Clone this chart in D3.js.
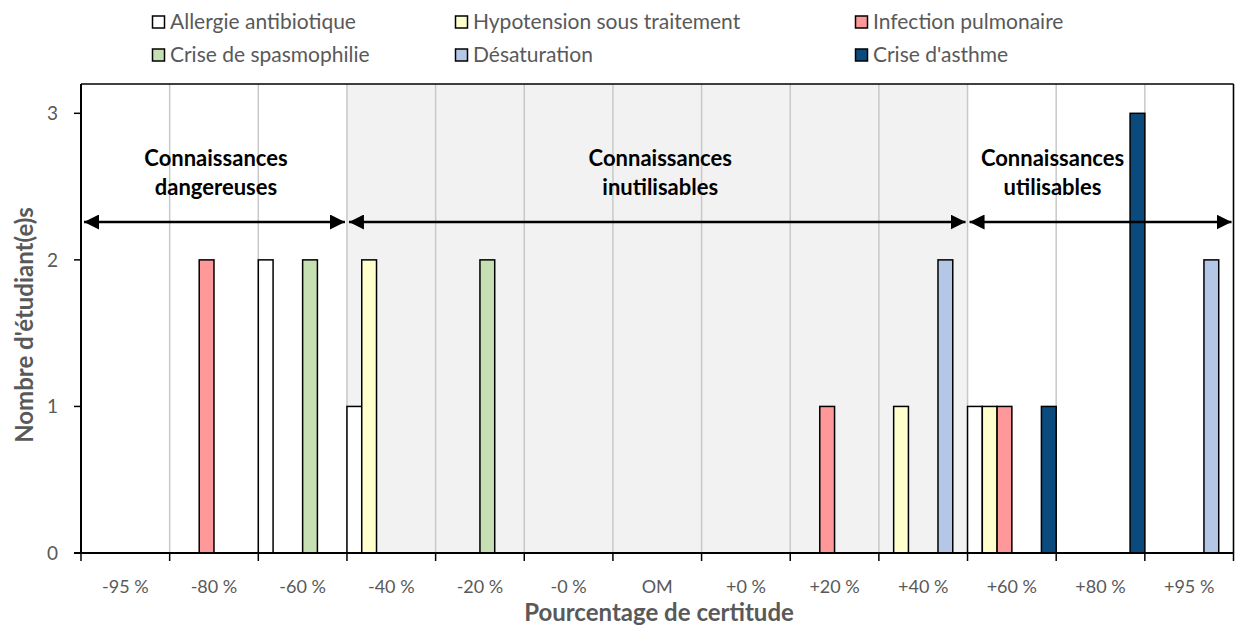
<!DOCTYPE html>
<html><head><meta charset="utf-8">
<script src="https://cdn.jsdelivr.net/npm/d3@7"></script>
<style>body{margin:0;background:#fff;} svg{display:block;}</style>
</head><body>
<svg id="chart" width="1235" height="628"></svg>
<script>
const categories = ["-95 %","-80 %","-60 %","-40 %","-20 %","-0 %","OM","+0 %","+20 %","+40 %","+60 %","+80 %","+95 %"];
const seriesNames = ["Allergie antibiotique","Hypotension sous traitement","Infection pulmonaire","Crise de spasmophilie","Désaturation","Crise d'asthme"];
const seriesColors = ["#ffffff","#ffffcc","#ff9999","#c6e0b4","#b4c7e7","#0a4a7c"];
const allergie     = [0,0,2,1,0,0,0,0,0,0,1,0,0];
const hypotension  = [0,0,0,2,0,0,0,0,0,1,1,0,0];
const infection    = [0,2,0,0,0,0,0,0,1,0,1,0,0];
const spasmophilie = [0,0,2,0,2,0,0,0,0,0,0,0,0];
const desaturation = [0,0,0,0,0,0,0,0,0,2,0,0,2];
const asthme       = [0,0,0,0,0,0,0,0,0,0,1,3,0];
const seriesValues = [allergie,hypotension,infection,spasmophilie,desaturation,asthme];
const yTicks = [0,1,2,3];
const zoneFrom  = ["-95 %","-40 %","+60 %"];
const zoneTo    = ["-60 %","+40 %","+95 %"];
const zoneLabels = [["Connaissances","dangereuses"],["Connaissances","inutilisables"],["Connaissances","utilisables"]];
const zoneShaded = [false,true,false];

const font = "Lato, 'Open Sans', sans-serif";
const svg = d3.select("#chart");
const L=81, R=1233.5, T=84, B=553;
const x = d3.scaleBand().domain(categories).range([L,R]).paddingInner(0).paddingOuter(0);
const bw = x.bandwidth();
const xs = d3.scaleBand().domain(seriesNames).range([0,bw]).padding(0);
const y = d3.scaleLinear().domain([0,3.2]).range([B,T]);

// shaded zone
zoneFrom.forEach((f,i)=>{
  if(!zoneShaded[i]) return;
  svg.append("rect").attr("x",x(f)).attr("y",T)
    .attr("width",x(zoneTo[i])+bw-x(f)).attr("height",B-T)
    .attr("fill","#f2f2f2");
});
// vertical gridlines at category boundaries
const bounds = categories.map(c=>x(c)).concat([R]);
svg.append("g").selectAll("line").data(bounds.slice(1)).join("line")
  .attr("x1",d=>d).attr("x2",d=>d).attr("y1",T).attr("y2",B)
  .attr("stroke","#c8c8c8").attr("stroke-width",1.5);

// bars
seriesNames.forEach((s,i)=>{
  svg.append("g").selectAll("rect").data(categories.map((c,j)=>({c,v:seriesValues[i][j]})).filter(d=>d.v>0))
    .join("rect")
    .attr("x",d=>x(d.c)+xs(s)).attr("width",xs.bandwidth())
    .attr("y",d=>y(d.v)).attr("height",d=>B-y(d.v))
    .attr("fill",seriesColors[i]).attr("stroke","#000").attr("stroke-width",1.5);
});

// plot frame
svg.append("line").attr("x1",L).attr("x2",R).attr("y1",T).attr("y2",T).attr("stroke","#000").attr("stroke-width",1.5);
svg.append("line").attr("x1",R).attr("x2",R).attr("y1",T).attr("y2",B).attr("stroke","#000").attr("stroke-width",1.5);

// axes
const xAxisG = svg.append("g").attr("transform",`translate(0,${B})`);
xAxisG.append("line").attr("x1",L-7).attr("x2",R).attr("y1",0).attr("y2",0).attr("stroke","#000").attr("stroke-width",2);
xAxisG.selectAll("line.tk").data(bounds).join("line").attr("class","tk")
  .attr("x1",d=>d).attr("x2",d=>d).attr("y1",0).attr("y2",8).attr("stroke","#000").attr("stroke-width",1.5);
xAxisG.selectAll("text").data(categories).join("text")
  .attr("x",d=>x(d)+bw/2).attr("y",40).attr("text-anchor","middle")
  .attr("font-family",font).attr("font-size",18).attr("fill","#595959").text(d=>d);

const yAxisG = svg.append("g").attr("transform",`translate(${L},0)`);
yAxisG.append("line").attr("x1",0).attr("x2",0).attr("y1",T).attr("y2",B).attr("stroke","#000").attr("stroke-width",2);
yAxisG.selectAll("line.tk").data(yTicks).join("line").attr("class","tk")
  .attr("x1",-7).attr("x2",0).attr("y1",d=>y(d)).attr("y2",d=>y(d)).attr("stroke","#000").attr("stroke-width",1.5);
yAxisG.selectAll("text").data(yTicks).join("text")
  .attr("x",-23).attr("y",d=>y(d)).attr("dy","0.35em").attr("text-anchor","end")
  .attr("font-family",font).attr("font-size",19).attr("fill","#595959").text(d=>d);

// axis titles
svg.append("text").attr("x",659).attr("y",621).attr("text-anchor","middle")
  .attr("font-family",font).attr("font-weight","bold").attr("font-size",24).attr("fill","#595959")
  .text("Pourcentage de certitude");
svg.append("text").attr("transform","translate(33,325) rotate(-90)").attr("text-anchor","middle")
  .attr("font-family",font).attr("font-weight","bold").attr("font-size",24).attr("fill","#595959")
  .text("Nombre d'étudiant(e)s");

// arrows
const defs = svg.append("defs");
defs.append("marker").attr("id","ah").attr("viewBox","0 0 10 10").attr("refX",10).attr("refY",5)
  .attr("markerWidth",15).attr("markerHeight",15).attr("markerUnits","userSpaceOnUse").attr("orient","auto-start-reverse")
  .append("path").attr("d","M0,0L10,5L0,10Z").attr("fill","#000");
const arrowY = 222;
const labelShift = [2, 3, -48];
zoneFrom.forEach((f,i)=>{
  const x0 = i===0 ? L+3 : x(f)+2;
  const x1 = i===zoneFrom.length-1 ? R-2 : x(zoneTo[i])+bw-2;
  svg.append("line").attr("x1",x0).attr("x2",x1).attr("y1",arrowY).attr("y2",arrowY)
    .attr("stroke","#000").attr("stroke-width",2.5)
    .attr("marker-start","url(#ah)").attr("marker-end","url(#ah)");
  const cx = (x(f)+x(zoneTo[i])+bw)/2 + labelShift[i];
  const t = svg.append("text").attr("text-anchor","middle").attr("font-family",font)
    .attr("font-weight","bold").attr("font-size",22).attr("fill","#000");
  zoneLabels[i].forEach((ln,k)=>t.append("tspan").attr("x",cx).attr("y",166+k*29).text(ln));
});

// legend
const legendPos = [[152,22],[455,22],[855,22],[152,55],[455,55],[855,55]];
seriesNames.forEach((name,si)=>{
  const [lx,ly] = legendPos[si];
  const g = svg.append("g").attr("transform",`translate(${lx},${ly})`);
  g.append("rect").attr("x",0.5).attr("y",-6).attr("width",12).attr("height",12)
    .attr("fill",seriesColors[si]).attr("stroke","#000").attr("stroke-width",1.5);
  g.append("text").attr("x",18).attr("y",0).attr("dy","0.35em").attr("font-family",font)
    .attr("font-size",21).attr("fill","#595959").text(name);
});
</script>
</body></html>
